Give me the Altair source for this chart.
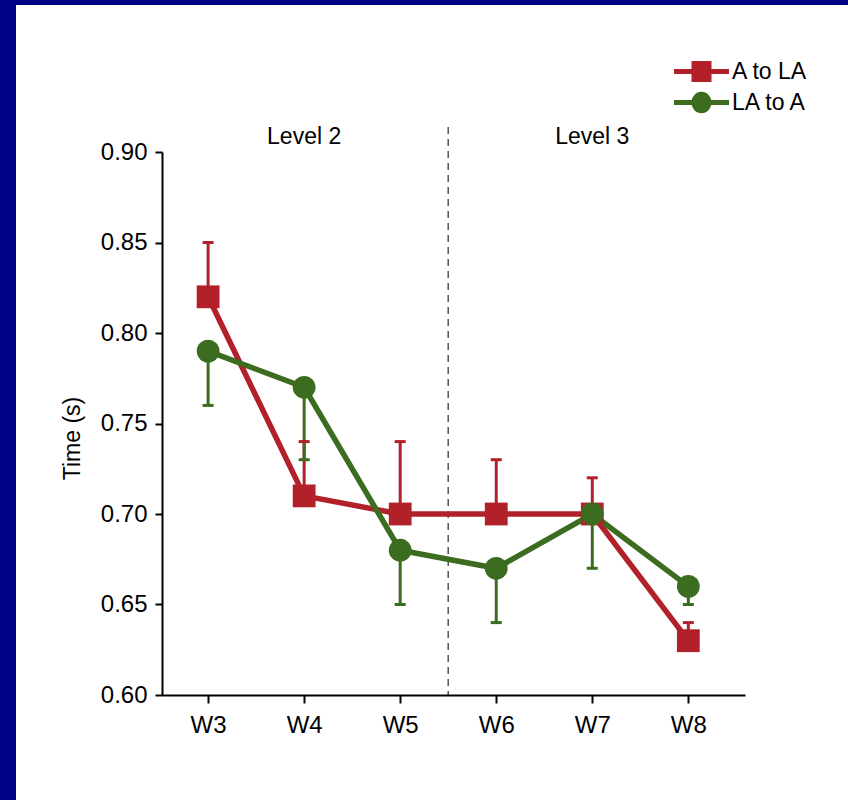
import altair as alt
import pandas as pd

# ---- data ----
weeks = [3, 4, 5, 6, 7, 8]
series_names = ["A to LA", "LA to A"]
a_to_la = [0.82, 0.71, 0.70, 0.70, 0.70, 0.63]
a_to_la_err = [0.85, 0.74, 0.74, 0.73, 0.72, 0.64]
la_to_a = [0.79, 0.77, 0.68, 0.67, 0.70, 0.66]
la_to_a_err = [0.76, 0.73, 0.65, 0.64, 0.67, 0.65]
y_ticks = [0.60, 0.65, 0.70, 0.75, 0.80, 0.85, 0.90]
level_labels = ["Level 2", "Level 3"]
level_pos = [4, 7]
level_boundary = [5.5]

RED = "#b2212a"
GREEN = "#3b6c20"
FONT = "Liberation Sans"

W, H = 583, 543
PAD = {"left": 162, "top": 152, "right": 103, "bottom": 105}

rows = []
for name, vals, errs in [(series_names[0], a_to_la, a_to_la_err),
                         (series_names[1], la_to_a, la_to_a_err)]:
    for w, v, e in zip(weeks, vals, errs):
        rows.append({"series": name, "week": w, "value": v, "err": e})
df = pd.DataFrame(rows)
levels = pd.DataFrame({"label": level_labels, "pos": level_pos})
bound = pd.DataFrame({"pos": level_boundary})
bg = pd.DataFrame({"k": [0]})

x_scale = alt.Scale(domain=[2.52, 8.59], nice=False)
y_scale = alt.Scale(domain=[0.60, 0.90], nice=False, zero=False)
color_scale = alt.Scale(domain=series_names, range=[RED, GREEN])

x_enc = alt.X("week:Q", scale=x_scale,
              axis=alt.Axis(values=weeks, labelExpr="'W' + datum.value",
                            title=None, grid=False, tickSize=8, labelPadding=10,
                            zindex=1))
y_enc = alt.Y("value:Q", scale=y_scale,
              axis=alt.Axis(values=y_ticks, format=".2f", title="Time (s)",
                            grid=False, tickSize=7, labelPadding=8, zindex=1,
                            titleX=-90, titleY=286, titleAngle=270,
                            titleAlign="center", titleBaseline="middle",
                            titleFontSize=23, titleFontWeight="normal",
                            titleFont=FONT, titleColor="black"))

white_panel = alt.Chart(bg).mark_rect(color="white").encode(
    x=alt.value(16 - PAD["left"]), x2=alt.value(W + PAD["right"]),
    y=alt.value(5 - PAD["top"]), y2=alt.value(H + PAD["bottom"]))

divider = alt.Chart(bound).mark_rule(color="#555555", strokeWidth=1.5,
                                     strokeDash=[7, 5]).encode(
    x=alt.X("pos:Q", scale=x_scale), y=alt.value(-25), y2=alt.value(H))

level_text = alt.Chart(levels).mark_text(font=FONT, fontSize=23, color="black",
                                         baseline="middle", align="center").encode(
    x=alt.X("pos:Q", scale=x_scale), y=alt.value(-15), text="label:N")

err_rules = alt.Chart(df).mark_rule(strokeWidth=3).encode(
    x=alt.X("week:Q", scale=x_scale), y=alt.Y("value:Q", scale=y_scale),
    y2="err:Q", color=alt.Color("series:N", scale=color_scale, legend=None))

err_caps = alt.Chart(df).mark_tick(orient="horizontal", size=11, thickness=3,
                                   opacity=1).encode(
    x=alt.X("week:Q", scale=x_scale), y=alt.Y("err:Q", scale=y_scale),
    color=alt.Color("series:N", scale=color_scale, legend=None))

lines = alt.Chart(df).mark_line(strokeWidth=5.5).encode(
    x=x_enc, y=y_enc,
    color=alt.Color("series:N", scale=color_scale, legend=None),
    detail="series:N")

sq_path = "M-2.75,-0.25H2.75V0.25H-2.75Z M-1,-1.05H1V1.05H-1Z"
ci_path = "M-2.75,-0.25H2.75V0.25H-2.75Z M-1,0A1,1.08 0 1,1 1,0A1,1.08 0 1,1 -1,0Z"


def series_points(name, color, shape, path, ly):
    leg = alt.Legend(title=None, orient="none", legendX=528, legendY=ly,
                     labelFont=FONT, labelFontSize=23, labelColor="black",
                     symbolSize=400, labelOffset=19, padding=0,
                     symbolType=path, symbolStrokeWidth=0, symbolOpacity=1)
    return alt.Chart(df).transform_filter(
        alt.datum.series == name
    ).mark_point(filled=True, shape=shape, size=520, opacity=1).encode(
        x=alt.X("week:Q", scale=x_scale), y=alt.Y("value:Q", scale=y_scale),
        fill=alt.Fill("series:N", scale=alt.Scale(domain=[name], range=[color]),
                      legend=leg))


pts_a = series_points(series_names[0], RED, "square", sq_path, -92)
pts_b = series_points(series_names[1], GREEN, "circle", ci_path, -61)

chart = alt.layer(white_panel, divider, level_text, err_rules, err_caps,
                  lines, pts_a, pts_b).resolve_scale(
    fill="independent").resolve_legend(fill="independent").properties(
    width=W, height=H,
    autosize=alt.AutoSizeParams(type="none"),
    padding=PAD,
    background="#000084",
).configure_view(stroke=None).configure_axis(
    domainColor="black", domainWidth=2, tickColor="black", tickWidth=2,
    labelFont=FONT, labelFontSize=24, labelColor="black")

chart.save("out.html", embed_options={"renderer": "svg", "actions": False})
